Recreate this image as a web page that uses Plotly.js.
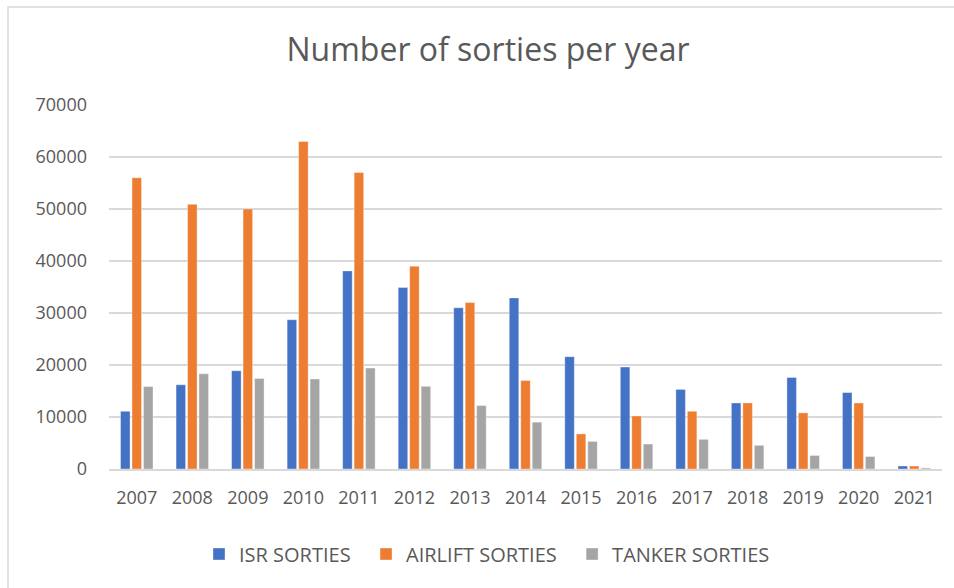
<!DOCTYPE html>
<html>
<head>
<meta charset="utf-8">
<script src="https://cdn.plot.ly/plotly-3.0.1.min.js"></script>
<style>
  html, body { margin: 0; padding: 0; background: #ffffff; }
  #chart { width: 954px; height: 588px; }
</style>
</head>
<body>
<div id="chart"></div>
<script>
const years = ['2007','2008','2009','2010','2011','2012','2013','2014','2015','2016','2017','2018','2019','2020','2021'];
const isrSorties = [11100, 16200, 18900, 28700, 38100, 34900, 31000, 32900, 21600, 19600, 15300, 12700, 17600, 14700, 580];
const airliftSorties = [56000, 50900, 50000, 63000, 57000, 39000, 32000, 17000, 6750, 10200, 11100, 12700, 10800, 12700, 580];
const tankerSorties = [15850, 18300, 17400, 17300, 19400, 15900, 12200, 9000, 5300, 4800, 5700, 4550, 2600, 2400, 200];
const seriesNames = ['ISR SORTIES', 'AIRLIFT SORTIES', 'TANKER SORTIES'];
const yTicks = [0, 10000, 20000, 30000, 40000, 50000, 60000, 70000];

const colors = ['#4472c4', '#ed7d31', '#a5a5a5'];
const fontFam = '"Open Sans", "Liberation Sans", sans-serif';
const textColor = '#595959';

const data = [isrSorties, airliftSorties, tankerSorties].map((vals, i) => ({
  type: 'bar',
  name: seriesNames[i] + '\u00a0\u00a0',
  x: years,
  y: vals,
  marker: { color: colors[i], line: { color: 'rgba(255,255,255,0.45)', width: 0.8 } },
  hoverinfo: 'x+y+name'
}));

// plot area: x 109..942, y 105..469
const L = 109, R = 12, T = 105, B = 119;
const W = 954, H = 588;
const pw = W - L - R, ph = H - T - B;
const px = v => (v - L) / pw;
const py = v => (H - B - v) / ph;

const layout = {
  width: W,
  height: H,
  margin: { l: L, r: R, t: T, b: B, pad: 0 },
  paper_bgcolor: '#ffffff',
  plot_bgcolor: '#ffffff',
  font: { family: fontFam, color: textColor, size: 18 },
  title: {
    text: 'Number of sorties per year',
    font: { family: fontFam, size: 32, color: textColor },
    x: 488 / W,
    xanchor: 'center',
    y: 1 - 50 / H,
    yanchor: 'middle'
  },
  barmode: 'group',
  bargap: 0.38,
  bargroupgap: 0.17,
  xaxis: {
    type: 'category',
    showgrid: false,
    showline: true,
    linecolor: '#d9d9d9',
    linewidth: 1.5,
    ticks: '',
    ticklabelstandoff: 12,
    tickfont: { family: fontFam, size: 18, color: textColor },
    fixedrange: true
  },
  yaxis: {
    range: [0, 70000],
    tickvals: yTicks,
    ticktext: yTicks.map(String),
    showgrid: true,
    gridcolor: '#d9d9d9',
    gridwidth: 1.5,
    zeroline: false,
    showline: false,
    ticks: '',
    ticklabelstandoff: 21,
    tickfont: { family: fontFam, size: 18, color: textColor },
    fixedrange: true
  },
  showlegend: true,
  legend: {
    orientation: 'h',
    x: px(199),
    xref: 'paper',
    xanchor: 'left',
    y: py(554),
    yanchor: 'middle',
    font: { family: fontFam, size: 20, color: textColor },
    itemclick: false,
    itemdoubleclick: false,
    tracegroupgap: 0
  },
  shapes: [{
    type: 'rect',
    xref: 'paper', yref: 'paper',
    x0: px(8), x1: px(1000),
    y0: py(700), y1: py(7),
    line: { color: '#d9d9d9', width: 1.5 },
    fillcolor: 'rgba(0,0,0,0)',
    layer: 'below'
  }]
};

Plotly.newPlot('chart', data, layout, { displayModeBar: false, staticPlot: true });
</script>
</body>
</html>
